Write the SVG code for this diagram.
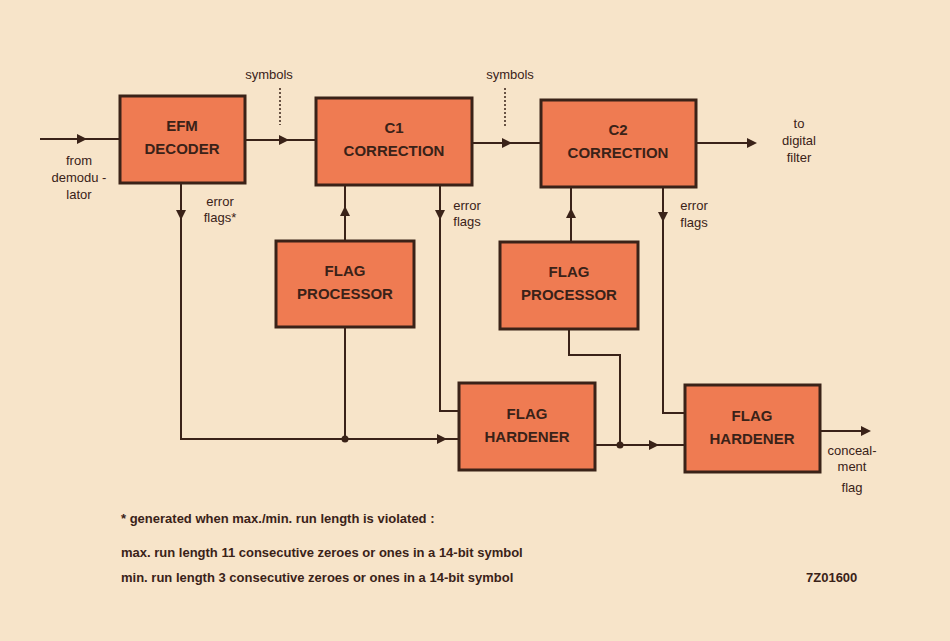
<svg xmlns="http://www.w3.org/2000/svg" width="950" height="641" viewBox="0 0 950 641">
<style>
.b{fill:#ef7b52;stroke:#3a2218;stroke-width:3}
.t{font-family:"Liberation Sans",Arial,sans-serif;font-weight:bold;font-size:15px;fill:#3a2218;text-anchor:middle}
.l{font-family:"Liberation Sans",Arial,sans-serif;font-size:13px;fill:#3a2218;text-anchor:middle}
.n{font-family:"Liberation Sans",Arial,sans-serif;font-size:13px;font-weight:bold;fill:#3a2218}
.c{fill:none;stroke:#3a2218;stroke-width:2}
.d{fill:none;stroke:#3a2218;stroke-width:1.5;stroke-dasharray:2 2}
</style>
<defs>
<marker id="a" viewBox="0 0 10 10" refX="5" refY="5" markerWidth="5" markerHeight="5" orient="auto"><path d="M0,0L10,5L0,10z" fill="#3a2218"/></marker>
</defs>
<rect width="950" height="641" fill="#f7e4c9"/>
<g id="connectors">
<path class="c" d="M40,139H82" marker-end="url(#a)"/><path class="c" d="M80,139H120"/>
<path class="c" d="M245,140H284" marker-end="url(#a)"/><path class="c" d="M282,140H316"/>
<path class="d" d="M280,88V125"/>
<path class="c" d="M472,143H507" marker-end="url(#a)"/><path class="c" d="M505,143H541"/>
<path class="d" d="M505,88V128"/>
<path class="c" d="M696,143H752" marker-end="url(#a)"/>
<path class="c" d="M181,183V215" marker-end="url(#a)"/><path class="c" d="M181,213V439H459"/>
<path class="c" d="M400,439H442" marker-end="url(#a)"/>
<path class="c" d="M345,241V211" marker-end="url(#a)"/><path class="c" d="M345,213V185"/>
<path class="c" d="M345,327V439"/><circle cx="345" cy="439" r="3.5" fill="#3a2218"/>
<path class="c" d="M440,185V215" marker-end="url(#a)"/><path class="c" d="M440,213V411H459"/>
<path class="c" d="M595,445H654" marker-end="url(#a)"/><path class="c" d="M652,445H685"/>
<path class="c" d="M569,329V355H620V445"/><circle cx="620" cy="445" r="3.5" fill="#3a2218"/>
<path class="c" d="M571,242V213" marker-end="url(#a)"/><path class="c" d="M571,215V187"/>
<path class="c" d="M663,187V217" marker-end="url(#a)"/><path class="c" d="M663,215V413H685"/>
<path class="c" d="M820,431H866" marker-end="url(#a)"/>
</g>
<g id="efm"><rect class="b" x="120" y="96" width="125" height="87"/><text class="t" x="182" y="131">EFM</text><text class="t" x="182" y="154">DECODER</text></g>
<g id="c1"><rect class="b" x="316" y="98" width="156" height="87"/><text class="t" x="394" y="133">C1</text><text class="t" x="394" y="156">CORRECTION</text></g>
<g id="c2"><rect class="b" x="541" y="100" width="155" height="87"/><text class="t" x="618" y="135">C2</text><text class="t" x="618" y="158">CORRECTION</text></g>
<g id="fp1"><rect class="b" x="276" y="241" width="138" height="86"/><text class="t" x="345" y="276">FLAG</text><text class="t" x="345" y="299">PROCESSOR</text></g>
<g id="fp2"><rect class="b" x="500" y="242" width="138" height="87"/><text class="t" x="569" y="277">FLAG</text><text class="t" x="569" y="300">PROCESSOR</text></g>
<g id="fh1"><rect class="b" x="459" y="383" width="136" height="87"/><text class="t" x="527" y="419">FLAG</text><text class="t" x="527" y="442">HARDENER</text></g>
<g id="fh2"><rect class="b" x="685" y="385" width="135" height="87"/><text class="t" x="752" y="421">FLAG</text><text class="t" x="752" y="444">HARDENER</text></g>
<g id="labels">
<text class="l" x="269" y="79">symbols</text>
<text class="l" x="510" y="79">symbols</text>
<text class="l" x="79" y="165">from</text><text class="l" x="79" y="182">demodu -</text><text class="l" x="79" y="199">lator</text>
<text class="l" x="220" y="206">error</text><text class="l" x="220" y="222">flags*</text>
<text class="l" x="467" y="210">error</text><text class="l" x="467" y="226">flags</text>
<text class="l" x="694" y="210">error</text><text class="l" x="694" y="227">flags</text>
<text class="l" x="799" y="128">to</text><text class="l" x="799" y="145">digital</text><text class="l" x="799" y="162">filter</text>
<text class="l" x="852" y="455">conceal-</text><text class="l" x="852" y="471">ment</text><text class="l" x="852" y="492">flag</text>
<text class="n" x="121" y="523">* generated when max./min. run length is violated :</text>
<text class="n" x="121" y="557">max. run length 11 consecutive zeroes or ones in a 14-bit symbol</text>
<text class="n" x="121" y="582">min. run length 3 consecutive zeroes or ones in a 14-bit symbol</text>
<text class="n" x="806" y="582">7Z01600</text>
</g>
</svg>
